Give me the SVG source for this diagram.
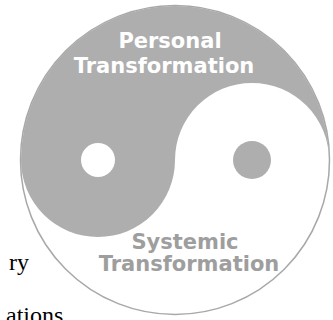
<svg xmlns="http://www.w3.org/2000/svg" width="333" height="320" viewBox="0 0 333 320">
  <style>
    .fill { fill: #aeaeae; }
    .ring { fill: none; stroke: #a8a8a8; stroke-width: 1.5; }
    .title { font-family: "DejaVu Sans", "Liberation Sans", sans-serif; font-weight: bold; font-size: 21px; text-anchor: middle; }
    .light { fill: #ffffff; }
    .dark { fill: #9e9e9e; }
    .body { font-family: "Liberation Serif", "Times New Roman", serif; font-size: 24px; fill: #000; }
  </style>
  <rect width="333" height="320" fill="#ffffff"/>

  <!-- body text running beside the figure -->
  <text class="body" x="9" y="270">ry</text>
  <text class="body" x="6" y="323">ations</text>

  <g id="yinyang">
    <circle class="ring" cx="175" cy="160" r="154.5"/>
    <!-- shaded half: upper disc minus right lobe plus left lobe -->
    <path class="fill" d="M21,160 A154,154 0 0 1 329,160 A77,77 0 0 0 175,160 A77,77 0 0 1 21,160 Z"/>
    <circle cx="98" cy="160" r="17" fill="#ffffff"/>
    <circle class="fill" cx="252" cy="160" r="19"/>
  </g>

  <g id="personal">
    <text class="title light" x="170" y="48">Personal</text>
    <text class="title light" x="164" y="73">Transformation</text>
  </g>

  <g id="systemic">
    <text class="title dark" x="185" y="249">Systemic</text>
    <text class="title dark" x="189" y="271">Transformation</text>
  </g>
</svg>
